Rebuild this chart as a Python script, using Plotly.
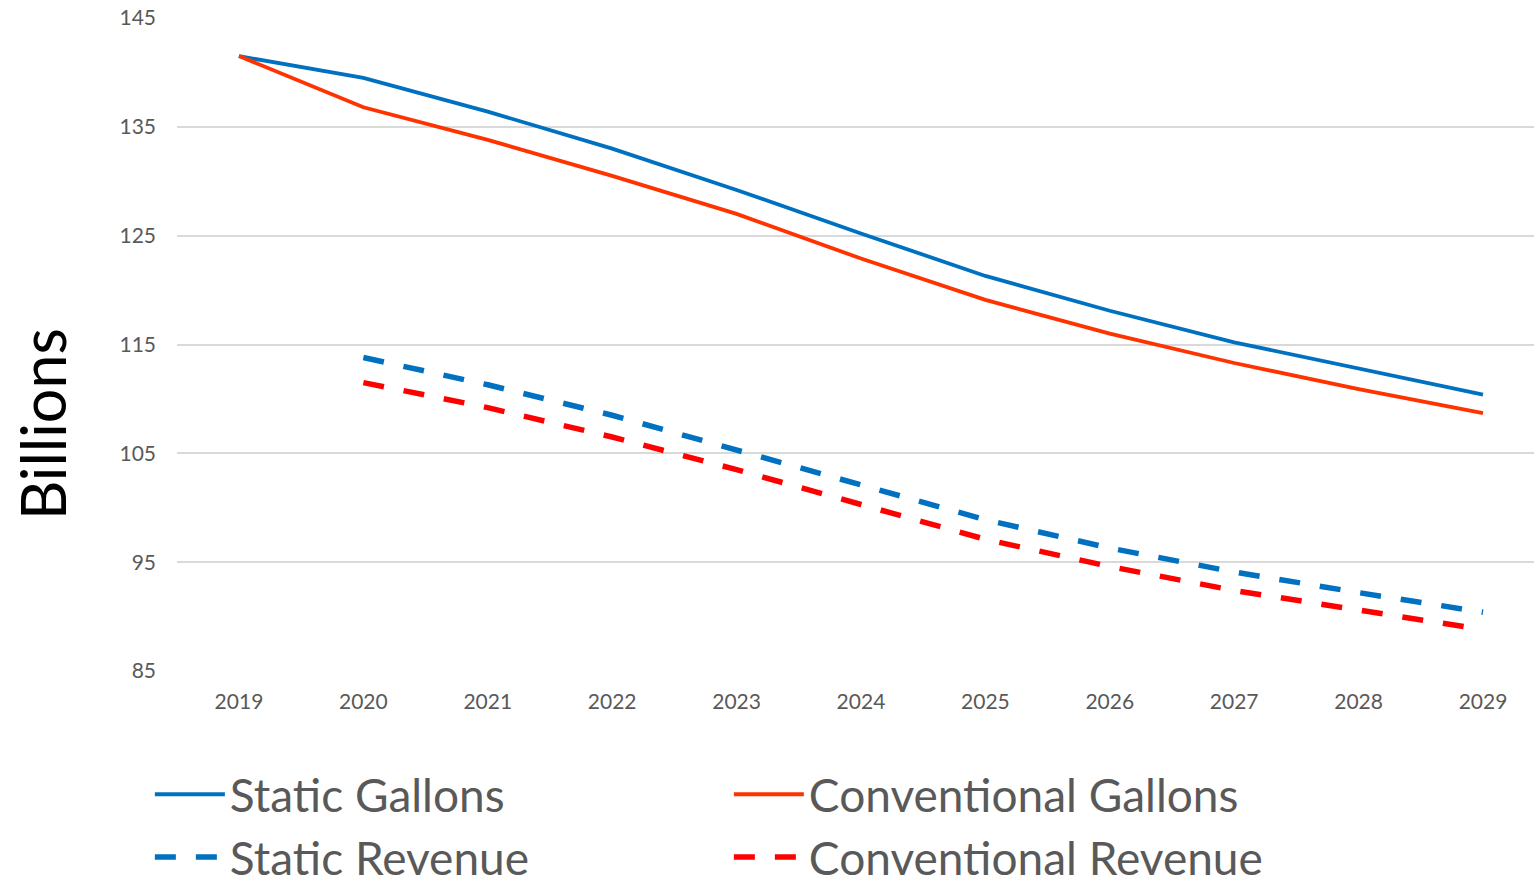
import plotly.graph_objects as go

years = [2019, 2020, 2021, 2022, 2023, 2024, 2025, 2026, 2027, 2028, 2029]
static_gallons = [141.5, 139.5, 136.4, 133.0, 129.2, 125.2, 121.3, 118.1, 115.2, 112.8, 110.4]
conventional_gallons = [141.5, 136.8, 133.8, 130.5, 127.0, 122.9, 119.1, 116.0, 113.3, 110.9, 108.7]
static_revenue = [None, 113.8, 111.3, 108.5, 105.3, 102.1, 98.9, 96.3, 94.1, 92.2, 90.4]
conventional_revenue = [None, 111.5, 109.2, 106.5, 103.5, 100.3, 97.1, 94.6, 92.4, 90.6, 88.8]
y_ticks = [85, 95, 105, 115, 125, 135, 145]

FONT = "Lato"
GREY = "#595959"

fig = go.Figure()
fig.add_trace(go.Scatter(x=years, y=static_gallons, name="Static Gallons", mode="lines",
                         line=dict(color="#0070C0", width=3.8)))
fig.add_trace(go.Scatter(x=years, y=conventional_gallons, name="Conventional Gallons", mode="lines",
                         line=dict(color="#FF3300", width=3.8)))
fig.add_trace(go.Scatter(x=years, y=static_revenue, name="Static Revenue", mode="lines",
                         line=dict(color="#0070C0", width=5.5, dash="21px,20px")))
fig.add_trace(go.Scatter(x=years, y=conventional_revenue, name="Conventional Revenue", mode="lines",
                         line=dict(color="#FF0000", width=5.5, dash="21px,20px")))

fig.update_layout(
    width=1534, height=885,
    margin=dict(l=177, r=0, t=18, b=214, autoexpand=False),
    paper_bgcolor="white", plot_bgcolor="white",
    font=dict(family=FONT, color=GREY),
    showlegend=True,
    legend=dict(
        orientation="h", x=-0.02, xanchor="left", y=-0.133, yanchor="top",
        font=dict(size=46, color=GREY, family=FONT),
        entrywidth=494, entrywidthmode="pixels",
        itemwidth=70, tracegroupgap=0,
    ),
    xaxis=dict(
        range=[2018.502, 2029.41], tickvals=years, ticktext=[str(y) for y in years],
        showgrid=False, zeroline=False, showline=False, ticks="",
        tickfont=dict(size=21, color=GREY, family=FONT), ticklabelstandoff=16,
    ),
    yaxis=dict(
        range=[85, 145], tickvals=y_ticks, showgrid=True, gridcolor="#D9D9D9", gridwidth=1.5,
        zeroline=False, showline=False, ticks="",
        tickfont=dict(size=21, color=GREY, family=FONT), ticklabelstandoff=20,
    ),
    annotations=[dict(
        text="Billions", textangle=-90, xref="paper", yref="paper",
        x=(42 - 177) / 1357, y=(671 - 424) / 653, xanchor="center", yanchor="middle",
        showarrow=False, font=dict(size=61, color="black", family=FONT),
    )],
)

fig.write_html("out.html")
